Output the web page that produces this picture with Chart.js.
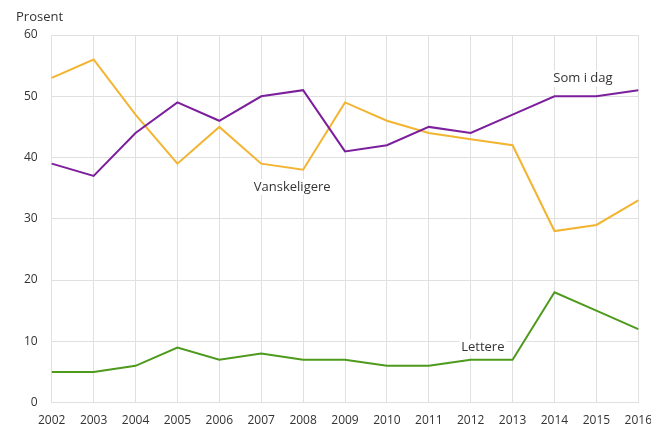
<!DOCTYPE html>
<html>
<head>
<meta charset="utf-8">
<script src="https://cdn.jsdelivr.net/npm/chart.js@4"></script>
<style>
  html, body { margin: 0; padding: 0; background: #fff; overflow: hidden; }
  #wrap { width: 663px; height: 439px; }
</style>
</head>
<body>
<div id="wrap"><canvas id="chart"></canvas></div>
<script>
// Data
const years = ["2002", "2003", "2004", "2005", "2006", "2007", "2008", "2009", "2010", "2011", "2012", "2013", "2014", "2015", "2016"];
const somIDag = [39, 37, 44, 49, 46, 50, 51, 41, 42, 45, 44, 47, 50, 50, 51];
const vanskeligere = [53, 56, 47, 39, 45, 39, 38, 49, 46, 44, 43, 42, 28, 29, 33];
const lettere = [5, 5, 6, 9, 7, 8, 7, 7, 6, 6, 7, 7, 18, 15, 12];
const yTicks = [0, 10, 20, 30, 40, 50, 60];

// labels placed inside the plot (x index, y value)
const seriesLabels = [
  { text: "Som i dag", x: 12.68, y: 52.9 },
  { text: "Vanskeligere", x: 5.74, y: 35.2 },
  { text: "Lettere", x: 10.29, y: 9.0 },
];

const FONT = "'Open Sans', sans-serif";

const labelPlugin = {
  id: "labelPlugin",
  afterDatasetsDraw(chart) {
    const ctx = chart.ctx;
    const xs = chart.scales.x;
    const ys = chart.scales.y;
    ctx.save();
    ctx.font = "13px " + FONT;
    ctx.textAlign = "center";
    ctx.textBaseline = "middle";
    seriesLabels.forEach((l) => {
      const px = xs.getPixelForValue(l.x);
      const py = ys.getPixelForValue(l.y);
      const w = ctx.measureText(l.text).width;
      ctx.fillStyle = "#fff";
      ctx.fillRect(px - w / 2 - 2, py - 8, w + 4, 16);
      ctx.fillStyle = "#333";
      ctx.fillText(l.text, px, py);
    });
    // axis title
    ctx.textAlign = "left";
    ctx.fillText("Prosent", 16, 17);
    ctx.restore();
  },
};

new Chart(document.getElementById("chart"), {
  type: "line",
  data: {
    labels: years,
    datasets: [
      { label: "Som i dag", data: somIDag, borderColor: "#7c1f9c" },
      { label: "Vanskeligere", data: vanskeligere, borderColor: "#f2b431" },
      { label: "Lettere", data: lettere, borderColor: "#4e9a1d" },
    ],
  },
  options: {
    responsive: true,
    maintainAspectRatio: false,
    animation: false,
    layout: { padding: { top: 35, left: 10, right: 0, bottom: 0 } },
    elements: {
      point: { radius: 0, hoverRadius: 0 },
      line: { borderWidth: 2, tension: 0 },
    },
    plugins: {
      legend: { display: false },
      tooltip: { enabled: false },
    },
    scales: {
      x: {
        offset: false,
        grid: { color: "#e0e0e0", drawTicks: false },
        border: { display: false },
        ticks: {
          color: "#333",
          font: { family: FONT, size: 12 },
          maxRotation: 0,
          autoSkip: false,
          padding: 11,
        },
      },
      y: {
        min: 0,
        max: 60,
        afterBuildTicks: (axis) => {
          axis.ticks = yTicks.map((v) => ({ value: v }));
        },
        grid: { color: "#e0e0e0", drawTicks: false },
        border: { display: false },
        ticks: {
          color: "#333",
          font: { family: FONT, size: 12 },
          padding: 14,
        },
      },
    },
  },
  plugins: [labelPlugin],
});
</script>
</body>
</html>
